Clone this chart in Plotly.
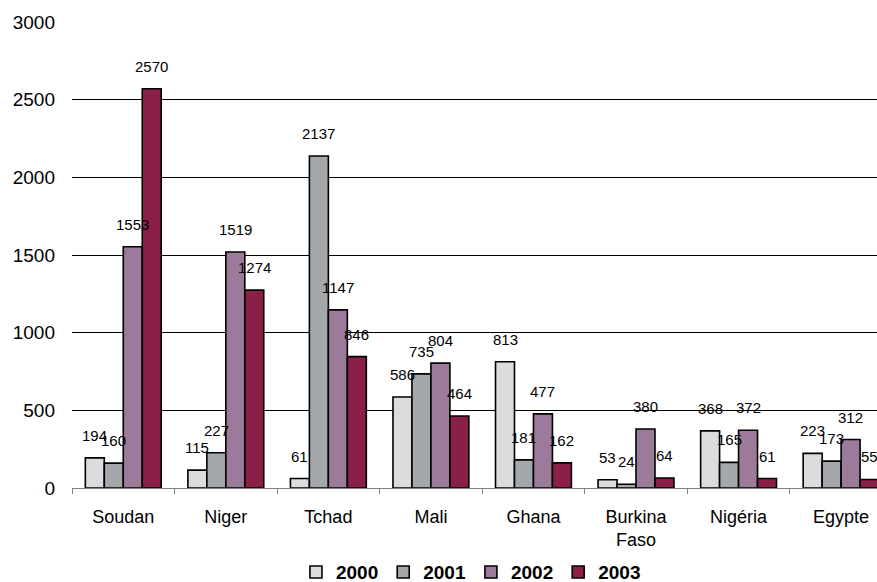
import plotly.graph_objects as go

countries = ["Soudan", "Niger", "Tchad", "Mali", "Ghana", "Burkina<br>Faso", "Nigéria", "Egypte"]
years = ["2000", "2001", "2002", "2003"]
v2000 = [194, 115, 61, 586, 813, 53, 368, 223]
v2001 = [160, 227, 2137, 735, 181, 24, 165, 173]
v2002 = [1553, 1519, 1147, 804, 477, 380, 372, 312]
v2003 = [2570, 1274, 846, 464, 162, 64, 61, 55]
series = [v2000, v2001, v2002, v2003]
colors = ["#DCDCDE", "#A4A8AA", "#9C7A9A", "#8A1F48"]
y_ticks = [0, 500, 1000, 1500, 2000, 2500, 3000]

FONT = "Liberation Sans, Arial, sans-serif"
BARGAP = 0.26
slot = (1 - BARGAP) / len(series)

fig = go.Figure()
for name, vals, col in zip(years, series, colors):
    fig.add_trace(go.Bar(
        x=countries, y=vals, name=name,
        marker=dict(color=col, line=dict(color="black", width=1.6)),
    ))

# value labels drawn on top of every bar, centred on each bar slot
annotations = []
for j, vals in enumerate(series):
    for i, v in enumerate(vals):
        annotations.append(dict(
            x=i + (j - (len(series) - 1) / 2) * slot, y=v,
            xref="x", yref="y", text=str(v), showarrow=False,
            yanchor="bottom", yshift=12,
            font=dict(family=FONT, size=15, color="black"),
        ))

fig.update_layout(
    width=877, height=582,
    margin=dict(l=72, r=0, t=22, b=94, autoexpand=False),
    barmode="group", bargap=BARGAP, bargroupgap=0,
    plot_bgcolor="white", paper_bgcolor="white",
    font=dict(family=FONT, color="black"),
    annotations=annotations,
    legend=dict(
        orientation="h", x=0.537, xanchor="center", xref="container",
        y=0.017, yanchor="middle", yref="container",
        font=dict(family=FONT, size=19, color="black", weight="bold"),
        itemwidth=30, traceorder="normal", tracegroupgap=0,
    ),
    showlegend=True,
)
fig.update_xaxes(
    range=[-0.5, 7.35], showgrid=False, automargin=False,
    showline=True, linecolor="#808080", linewidth=1,
    ticks="outside", tickson="boundaries", ticklen=5, tickcolor="#808080",
    ticklabelstandoff=12,
    tickfont=dict(family=FONT, size=18, color="black"),
    fixedrange=True,
)
fig.update_yaxes(
    range=[0, 3000], tickvals=y_ticks, automargin=False,
    showgrid=True, gridcolor="black", gridwidth=1,
    showline=False, zeroline=False, ticks="",
    ticklabelstandoff=16,
    tickfont=dict(family=FONT, size=19, color="black"),
    fixedrange=True,
)

fig.write_html("out.html")
